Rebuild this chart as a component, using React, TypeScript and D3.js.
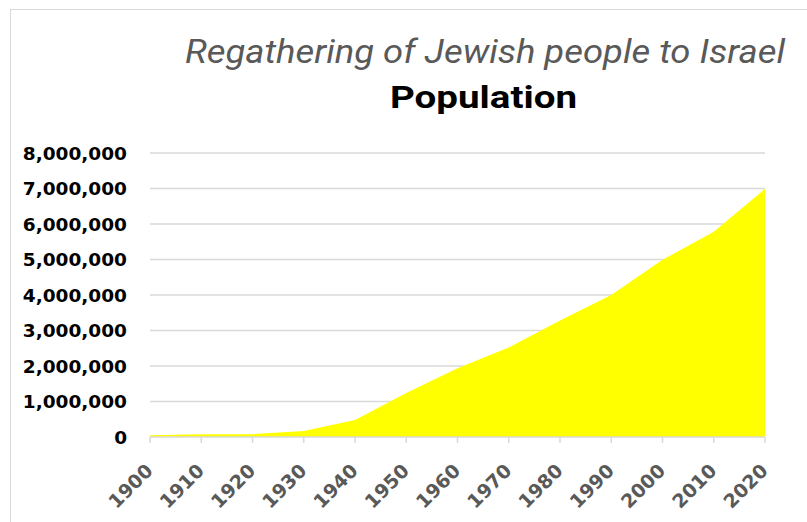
import React from "react";
import * as d3 from "d3";

const years: number[] = [1900, 1910, 1920, 1930, 1940, 1950, 1960, 1970, 1980, 1990, 2000, 2010, 2020];
const population: number[] = [50000, 80000, 80000, 170000, 480000, 1240000, 1940000, 2520000, 3280000, 4000000, 4990000, 5780000, 6990000];
const yTicks: number[] = [0, 1000000, 2000000, 3000000, 4000000, 5000000, 6000000, 7000000, 8000000];
const titleText = "Regathering of Jewish people to Israel";
const subtitleText = "Population";

export default function App() {
  const W = 807, H = 522;
  const x = d3.scaleLinear().domain([1900, 2020]).range([150, 765]);
  const y = d3.scaleLinear().domain([0, 8000000]).range([437, 153]);
  const area = d3.area<number>()
    .x((_, i) => x(years[i]))
    .y0(y(0))
    .y1((d) => y(d));
  const fmt = d3.format(",");
  return (
    <svg width={W} height={H} style={{ position: "absolute", left: 0, top: 0 }}>
      <rect x={0} y={0} width={W} height={H} fill="#fff" />
      <rect x={10.5} y={9.5} width={W + 10} height={H + 10} fill="none" stroke="#d9d9d9" strokeWidth={1} />
      <text x={185} y={63} textLength={600} lengthAdjust="spacingAndGlyphs" fontFamily="'Roboto', sans-serif" fontStyle="italic" fontSize={33} fill="#595959">{titleText}</text>
      <text x={390} y={108} textLength={187} lengthAdjust="spacingAndGlyphs" fontFamily="'Roboto', sans-serif" fontWeight="bold" fontSize={32} fill="#000">{subtitleText}</text>
      {yTicks.map((t) => (
        <g key={t}>
          {t > 0 && <line x1={150} x2={765} y1={y(t)} y2={y(t)} stroke="#d9d9d9" strokeWidth={1.5} />}
          <text x={127} y={y(t)} dy="0.36em" textAnchor="end" fontFamily="'DejaVu Sans', sans-serif" fontWeight="bold" fontSize={18.5} fill="#000">{fmt(t)}</text>
        </g>
      ))}
      <path d={area(population) || ""} fill="#ffff00" />
      <line x1={150} x2={765} y1={y(0)} y2={y(0)} stroke="#d9d9d9" strokeWidth={1.5} />
      {years.map((yr) => (
        <g key={yr}>
          <line x1={x(yr)} x2={x(yr)} y1={y(0)} y2={y(0) + 6} stroke="#d9d9d9" strokeWidth={1.5} />
          <text transform={`translate(${x(yr) + 4},${y(0) + 35}) rotate(-45)`} textAnchor="end" fontFamily="'DejaVu Sans', sans-serif" fontWeight="bold" fontSize={19} fill="#595959">{yr}</text>
        </g>
      ))}
    </svg>
  );
}
